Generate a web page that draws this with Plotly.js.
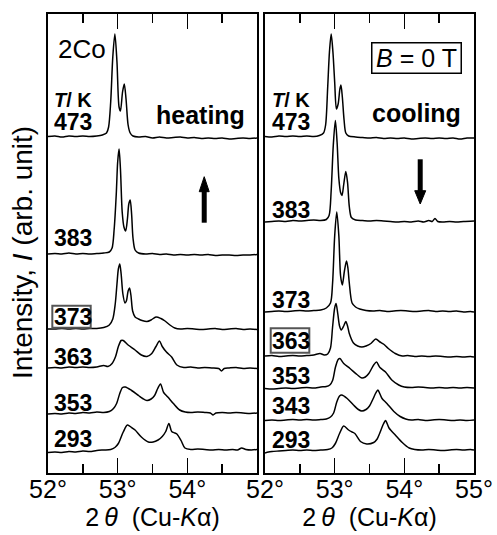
<!DOCTYPE html>
<html>
<head>
<meta charset="utf-8">
<script src="https://cdn.plot.ly/plotly-3.0.1.min.js"></script>
<style>html,body{margin:0;padding:0;background:#fff;}#chart{width:497px;height:535px;}</style>
</head>
<body>
<div id="chart"></div>
<script>
// ---------- DATA (2θ in degrees, intensity above each curve's baseline, arb. unit) ----------
const heatingTemps = ['473', '383', '373', '363', '353', '293'];
const heatingOffsets = [336, 219, 144, 105.5, 60.5, 23.5];
const coolingTemps = ['473', '383', '373', '363', '353', '343', '293'];
const coolingOffsets = [336, 252.5, 162, 117, 85.5, 53, 23];

const heat473 = [[52.00,0.5],[52.10,1],[52.20,0],[52.30,1],[52.40,0.5],[52.50,1],[52.60,0.5],[52.70,1],[52.78,2],[52.84,4],[52.87,10],[52.90,35],[52.93,80],[52.96,103],[52.99,75],[53.02,30],[53.04,26],[53.07,45],[53.095,53],[53.12,38],[53.15,12],[53.18,4],[53.22,1],[53.30,0],[53.40,0.5],[53.50,-1],[53.60,0],[53.70,-1],[53.80,-0.5],[53.90,0],[54.00,-1],[54.10,-0.5],[54.20,-1.5],[54.30,-1],[54.40,-1.5],[54.50,-1],[54.60,-2],[54.70,-1.5],[54.80,-1],[54.90,-1.5],[55.00,-1]];
const heat383 = [[52.00,0],[52.10,0.5],[52.20,0],[52.30,1],[52.40,0],[52.50,0.5],[52.60,0],[52.70,0.5],[52.80,1],[52.88,2],[52.92,6],[52.95,25],[52.98,60],[53.00,92],[53.02,105],[53.04,85],[53.065,42],[53.09,27],[53.115,23],[53.14,35],[53.16,50],[53.18,54],[53.20,40],[53.22,16],[53.25,4],[53.30,1],[53.40,0],[53.50,0.5],[53.60,-0.5],[53.70,0],[53.80,-1],[53.90,-0.5],[54.00,-1],[54.10,-0.5],[54.20,-1],[54.30,-0.5],[54.40,-1.5],[54.50,-1],[54.60,-1],[54.70,-1.5],[54.80,-1],[54.90,-1],[55.00,-0.5]];
const heat373 = [[52.00,0],[52.10,0],[52.20,0.5],[52.30,0],[52.40,0.5],[52.50,0],[52.60,0.5],[52.70,0.5],[52.80,1.5],[52.88,4],[52.93,10],[52.965,25],[52.99,45],[53.01,60],[53.03,65],[53.05,55],[53.075,35],[53.105,26],[53.125,28],[53.15,38],[53.17,41],[53.19,34],[53.215,18],[53.25,12],[53.30,10],[53.35,8.5],[53.42,7.5],[53.48,9],[53.55,12],[53.62,10.5],[53.68,8],[53.75,4],[53.82,1],[53.90,0],[54.00,0.5],[54.10,0],[54.20,-0.5],[54.30,0],[54.40,0.5],[54.50,-0.5],[54.60,0],[54.70,0.5],[54.80,-0.5],[54.90,0],[55.00,-0.5]];
const heat363 = [[52.00,-0.5],[52.10,0],[52.20,-0.5],[52.30,0.5],[52.40,0],[52.50,0.5],[52.60,0],[52.70,0.5],[52.80,2],[52.86,1],[52.92,4],[52.97,11],[53.01,21],[53.05,27],[53.08,27],[53.15,22.5],[53.25,17.5],[53.34,12.5],[53.42,11],[53.49,14],[53.55,21],[53.60,26.5],[53.64,21],[53.70,15.5],[53.775,10.5],[53.85,2.5],[53.95,0],[54.05,0.5],[54.15,-0.5],[54.25,0],[54.35,-0.5],[54.45,-1],[54.49,-3.5],[54.53,-1],[54.60,-0.5],[54.70,0],[54.80,-1],[54.90,-0.5],[55.00,-1]];
const heat353 = [[52.00,-1.5],[52.10,-1],[52.20,-1.5],[52.30,-0.5],[52.40,-1],[52.50,0],[52.60,-0.5],[52.70,0.5],[52.80,0],[52.88,1],[52.94,4],[52.985,9],[53.03,19],[53.07,25],[53.11,25.5],[53.20,22],[53.30,17],[53.36,14],[53.42,12],[53.48,13.5],[53.53,17],[53.575,24],[53.615,28.5],[53.66,20],[53.72,15.5],[53.80,9],[53.89,2.5],[53.97,0.5],[54.05,0],[54.15,0.5],[54.25,0],[54.33,-0.5],[54.37,-2.5],[54.41,-0.5],[54.50,0],[54.60,-0.5],[54.70,0],[54.80,-0.5],[54.90,-1],[55.00,-0.5]];
const heat293 = [[52.00,-3],[52.10,-2.5],[52.20,-3],[52.30,-2],[52.40,-2.5],[52.50,-1.5],[52.60,-2],[52.70,-1],[52.80,-0.5],[52.90,0],[52.96,2],[53.01,6],[53.08,17.5],[53.14,24.5],[53.20,22],[53.25,19.5],[53.34,12.5],[53.44,7.5],[53.51,7.5],[53.58,9.5],[53.64,13],[53.69,18],[53.735,26],[53.775,18],[53.82,16.5],[53.85,15.5],[53.91,9],[53.965,1.5],[54.05,0],[54.15,0.5],[54.25,0],[54.35,-0.5],[54.45,0],[54.55,-0.5],[54.65,0],[54.72,-0.5],[54.78,1.5],[54.84,0],[54.92,-0.5],[55.00,0]];

const cool473 = [[52.00,0.5],[52.10,0],[52.20,1],[52.30,0.5],[52.40,1],[52.50,0.5],[52.60,1],[52.70,0.5],[52.78,1.5],[52.84,4],[52.87,12],[52.90,50],[52.925,85],[52.95,103],[52.975,85],[53.00,55],[53.025,28],[53.05,33],[53.075,48],[53.09,52],[53.11,40],[53.135,17],[53.16,4],[53.20,1],[53.30,0],[53.40,-0.5],[53.50,-1],[53.60,-0.5],[53.70,-1.5],[53.80,-1],[53.90,-1.5],[54.00,-1],[54.10,-2],[54.20,-1.5],[54.30,-1],[54.40,-1.5],[54.50,-1],[54.60,-1.5],[54.70,-1],[54.80,-2],[54.90,-1],[55.00,-1]];
const cool383 = [[52.00,-1.5],[52.10,-1],[52.20,-0.5],[52.30,-1],[52.40,0],[52.50,-0.5],[52.60,0],[52.70,0.5],[52.80,0],[52.88,1],[52.92,5],[52.95,30],[52.98,75],[53.01,100],[53.035,78],[53.06,42],[53.085,28],[53.105,25],[53.13,36],[53.16,49],[53.185,38],[53.21,14],[53.24,3],[53.30,0.5],[53.40,0],[53.50,-0.5],[53.60,0],[53.70,-0.5],[53.80,-1],[53.90,-1.5],[54.00,-1],[54.10,-1.5],[54.20,-0.5],[54.28,-1.5],[54.35,0],[54.40,-1],[54.44,2],[54.48,-1],[54.55,-1.5],[54.65,-1],[54.75,-1.5],[54.85,-1],[55.00,-0.5]];
const cool373 = [[52.00,-1],[52.10,-0.5],[52.20,0],[52.30,-0.5],[52.40,0],[52.50,0.5],[52.60,0],[52.70,0.5],[52.80,1],[52.88,3],[52.94,8],[52.97,28],[53.00,75],[53.03,99],[53.06,75],[53.085,35],[53.11,26],[53.14,40],[53.17,50],[53.19,43],[53.21,28],[53.25,8],[53.30,4],[53.36,2],[53.45,0.5],[53.55,0],[53.65,0.5],[53.75,-0.5],[53.85,0],[53.95,0.5],[54.05,0],[54.15,-0.5],[54.25,0],[54.35,0.5],[54.45,-0.5],[54.55,0],[54.65,-0.5],[54.75,0],[54.85,-1],[54.95,-0.5],[55.00,-1]];
const cool363 = [[52.00,0],[52.10,0.5],[52.20,-0.5],[52.30,0],[52.40,0.5],[52.50,0],[52.60,0.5],[52.70,1],[52.79,2.5],[52.85,1],[52.90,2],[52.94,8],[52.97,29],[53.00,48],[53.02,52.5],[53.045,42],[53.07,30],[53.095,26],[53.13,30],[53.16,34.5],[53.185,30],[53.21,22.5],[53.27,13],[53.33,10],[53.39,9],[53.45,10],[53.52,12.5],[53.59,17],[53.65,14],[53.70,12],[53.77,7.5],[53.87,2.5],[53.97,0],[54.05,0.5],[54.15,-0.5],[54.25,0],[54.35,-0.5],[54.45,0],[54.55,-0.5],[54.65,-1],[54.75,-0.5],[54.85,-1],[54.95,-0.5],[55.00,-1]];
const cool353 = [[52.00,-1],[52.10,-1.5],[52.20,-1],[52.30,-0.5],[52.40,-1],[52.50,-0.5],[52.60,0],[52.70,-0.5],[52.80,0.5],[52.88,1],[52.93,2.5],[52.97,7],[53.01,20],[53.05,28],[53.075,29],[53.13,24],[53.22,19],[53.32,13],[53.39,9.5],[53.44,10.5],[53.49,14],[53.56,22.5],[53.60,25.5],[53.65,20],[53.73,15.5],[53.82,7.5],[53.92,2.5],[54.00,0.5],[54.10,0],[54.20,0.5],[54.30,0],[54.40,-0.5],[54.50,0],[54.60,-0.5],[54.70,0],[54.80,-0.5],[54.90,0],[55.00,-0.5]];
const cool343 = [[52.00,-0.5],[52.10,0],[52.20,-0.5],[52.30,0],[52.40,0.5],[52.50,0],[52.60,0.5],[52.70,0],[52.80,0.5],[52.88,1],[52.94,3],[52.985,7],[53.03,18],[53.07,24],[53.10,25],[53.18,21.5],[53.27,15],[53.34,10.5],[53.39,9],[53.45,10.5],[53.50,14],[53.55,21],[53.59,27],[53.62,30],[53.65,26],[53.68,21.5],[53.75,16.5],[53.85,8.5],[53.94,3.5],[54.02,1],[54.10,0],[54.20,0.5],[54.30,-0.5],[54.40,0],[54.50,0.5],[54.60,0],[54.70,-0.5],[54.80,0],[54.90,-0.5],[55.00,0]];
const cool293 = [[52.00,-3],[52.05,-2],[52.10,-1.5],[52.20,-1],[52.30,-0.5],[52.40,0],[52.50,-0.5],[52.60,0],[52.70,-0.5],[52.80,0],[52.90,0.5],[52.96,2],[53.01,6.5],[53.07,16.5],[53.13,24],[53.20,20],[53.25,18],[53.29,16.5],[53.37,8.5],[53.46,6],[53.56,7.5],[53.61,11],[53.645,16.5],[53.70,26],[53.73,29.5],[53.78,22],[53.87,15],[53.97,7.5],[54.07,2],[54.15,0.5],[54.25,0],[54.35,0.5],[54.45,0],[54.55,-0.5],[54.65,0],[54.75,0.5],[54.85,0],[54.95,0.5],[55.00,0]];

const heatingCurves = [heat473, heat383, heat373, heat363, heat353, heat293];
const coolingCurves = [cool473, cool383, cool373, cool363, cool353, cool343, cool293];

const xTickVals = [52, 53, 54, 55];
const xTickTextLeft = ['52°', '53°', '54°', ''];
const xTickTextRight = ['52°', '53°', '54°', '55°'];
const xMinorVals = [52.5, 53.5, 54.5];

// ---------- STYLE / LAYOUT ----------
const FONT = 'Liberation Sans, Arial, Helvetica, sans-serif';
const traces = [];
heatingCurves.forEach((pts, i) => {
  traces.push({
    x: pts.map(p => p[0]), y: pts.map(p => p[1] + heatingOffsets[i]),
    xaxis: 'x', yaxis: 'y', type: 'scatter', mode: 'lines', name: 'heating ' + heatingTemps[i] + ' K',
    line: {color: '#000', width: 1.5, shape: 'spline', smoothing: 0.8}, hoverinfo: 'skip'
  });
});
coolingCurves.forEach((pts, i) => {
  traces.push({
    x: pts.map(p => p[0]), y: pts.map(p => p[1] + coolingOffsets[i]),
    xaxis: 'x2', yaxis: 'y2', type: 'scatter', mode: 'lines', name: 'cooling ' + coolingTemps[i] + ' K',
    line: {color: '#000', width: 1.5, shape: 'spline', smoothing: 0.8}, hoverinfo: 'skip'
  });
});

function xAxis(domain, ticktext, anchor) {
  return {
    domain: domain, range: [52, 55], anchor: anchor,
    showline: true, linecolor: '#000', linewidth: 2, mirror: 'ticks',
    ticks: 'inside', ticklen: 15, tickwidth: 1.5, tickcolor: '#000',
    tickmode: 'array', tickvals: xTickVals, ticktext: ticktext,
    minor: {tickmode: 'array', tickvals: xMinorVals, ticks: 'inside', ticklen: 9, tickwidth: 1.5, tickcolor: '#000', showgrid: false},
    tickfont: {family: FONT, size: 25, color: '#000'},
    ticklabelstandoff: -7,
    showgrid: false, zeroline: false, fixedrange: true,
    title: {text: '2\u2009<i>θ</i>\u00a0\u00a0(Cu-<i>K</i>α)', font: {family: FONT, size: 25, color: '#000'}, standoff: 6}
  };
}
function yAxis(anchor) {
  return {
    domain: [0, 1], range: [0, 459], anchor: anchor,
    showline: true, linecolor: '#000', linewidth: 2, mirror: true,
    ticks: '', showticklabels: false, showgrid: false, zeroline: false, fixedrange: true
  };
}

const ann = [];
function label(text, xref, yref, x, y, size, anchor) {
  ann.push({text: text, xref: xref, yref: yref, x: x, y: y, xanchor: anchor || 'left', yanchor: 'middle',
    showarrow: false, font: {family: FONT, size: size, color: '#000'}, borderpad: 0});
}
// y-axis title (placed in the left margin)
ann.push({text: 'Intensity, <i>I</i> (arb. unit)', xref: 'paper', yref: 'paper', x: -0.0587, y: 0.4815,
  xanchor: 'center', yanchor: 'middle', textangle: -90, showarrow: false,
  font: {family: FONT, size: 28, color: '#000'}, borderpad: 0});
// left panel texts
label('2Co', 'x', 'y', 52.13, 424.5, 26);
label('<b><i>T</i>/ K</b>', 'x', 'y', 52.075, 372.7, 20);
label('<b>heating</b>', 'x', 'y', 54.835, 357.7, 25, 'right');
const heatLabelY = [351, 234.7, 156, 116.3, 69.7, 34];
heatingTemps.forEach((t, i) => label('<b>' + t + '</b>', 'x', 'y', 52.07, heatLabelY[i], 23));
// right panel texts
label('<b><i>T</i>/ K</b>', 'x2', 'y2', 52.085, 372.7, 20);
label('<b>cooling</b>', 'x2', 'y2', 54.825, 359.7, 25, 'right');
const coolLabelY = [351, 263, 173, 132, 97.5, 67.5, 32.7];
coolingTemps.forEach((t, i) => label('<b>' + t + '</b>', 'x2', 'y2', 52.09, coolLabelY[i], 23));
ann.push({text: '<i>B</i> = 0 T', xref: 'x2', yref: 'y2', x: 54.169, y: 414.6, xanchor: 'center', yanchor: 'middle',
  showarrow: false, font: {family: FONT, size: 25, color: '#000'}, bordercolor: '#000', borderwidth: 1.5, borderpad: 1,
  width: 86, height: 27, bgcolor: '#fff'});

const shapes = [
  // boxes around the transition temperatures
  {type: 'rect', xref: 'x', yref: 'y', x0: 52.062, x1: 52.613, y0: 145.3, y1: 167.3, line: {color: '#555', width: 2}},
  {type: 'rect', xref: 'x2', yref: 'y2', x0: 52.082, x1: 52.636, y0: 120.3, y1: 144.7, line: {color: '#555', width: 2}},
  // heating arrow (up)
  {type: 'line', xref: 'x', yref: 'y', x0: 54.2425, x1: 54.2425, y0: 250.3, y1: 283, line: {color: '#000', width: 5}},
  {type: 'path', xref: 'x', yref: 'y', path: 'M54.171,281.3 L54.314,281.3 L54.2425,296.3 Z', fillcolor: '#000', line: {color: '#000', width: 1}},
  // cooling arrow (down)
  {type: 'line', xref: 'x2', yref: 'y2', x0: 54.228, x1: 54.228, y0: 313.7, y1: 281, line: {color: '#000', width: 5}},
  {type: 'path', xref: 'x2', yref: 'y2', path: 'M54.149,282.3 L54.307,282.3 L54.228,269 Z', fillcolor: '#000', line: {color: '#000', width: 1}}
];

const layout = {
  width: 497, height: 535,
  margin: {l: 48, r: 23, t: 14, b: 62, pad: 0},
  paper_bgcolor: '#fff', plot_bgcolor: '#fff',
  showlegend: false,
  font: {family: FONT, color: '#000'},
  xaxis: xAxis([0, 0.4906], xTickTextLeft, 'y'),
  yaxis: yAxis('x'),
  xaxis2: xAxis([0.5094, 1], xTickTextRight, 'y2'),
  yaxis2: yAxis('x2'),
  annotations: ann,
  shapes: shapes
};

Plotly.newPlot('chart', traces, layout, {displayModeBar: false, staticPlot: true});
</script>
</body>
</html>
